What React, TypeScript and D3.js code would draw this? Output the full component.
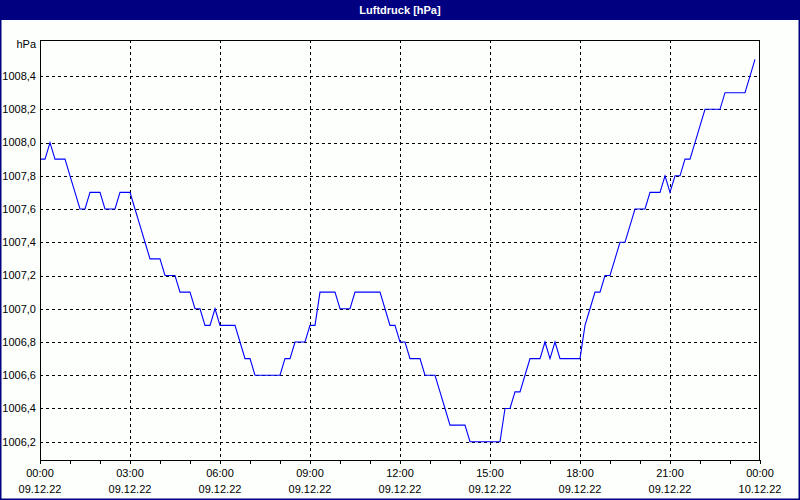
import React from "react";
import * as d3 from "d3";

// Air pressure, one reading every 10 minutes from 09.12.22 00:00
const pressureValues: number[] = [
  1007.9, 1007.9, 1008.0, 1007.9, 1007.9, 1007.9, 1007.8, 1007.7, 1007.6, 1007.6,
  1007.7, 1007.7, 1007.7, 1007.6, 1007.6, 1007.6, 1007.7, 1007.7, 1007.7, 1007.6,
  1007.5, 1007.4, 1007.3, 1007.3, 1007.3, 1007.2, 1007.2, 1007.2, 1007.1, 1007.1,
  1007.1, 1007.0, 1007.0, 1006.9, 1006.9, 1007.0, 1006.9, 1006.9, 1006.9, 1006.9,
  1006.8, 1006.7, 1006.7, 1006.6, 1006.6, 1006.6, 1006.6, 1006.6, 1006.6, 1006.7,
  1006.7, 1006.8, 1006.8, 1006.8, 1006.9, 1006.9, 1007.1, 1007.1, 1007.1, 1007.1,
  1007.0, 1007.0, 1007.0, 1007.1, 1007.1, 1007.1, 1007.1, 1007.1, 1007.1, 1007.0,
  1006.9, 1006.9, 1006.8, 1006.8, 1006.7, 1006.7, 1006.7, 1006.6, 1006.6, 1006.6,
  1006.5, 1006.4, 1006.3, 1006.3, 1006.3, 1006.3, 1006.2, 1006.2, 1006.2, 1006.2,
  1006.2, 1006.2, 1006.2, 1006.4, 1006.4, 1006.5, 1006.5, 1006.6, 1006.7, 1006.7,
  1006.7, 1006.8, 1006.7, 1006.8, 1006.7, 1006.7, 1006.7, 1006.7, 1006.7, 1006.9,
  1007.0, 1007.1, 1007.1, 1007.2, 1007.2, 1007.3, 1007.4, 1007.4, 1007.5, 1007.6,
  1007.6, 1007.6, 1007.7, 1007.7, 1007.7, 1007.8, 1007.7, 1007.8, 1007.8, 1007.9,
  1007.9, 1008.0, 1008.1, 1008.2, 1008.2, 1008.2, 1008.2, 1008.3, 1008.3, 1008.3,
  1008.3, 1008.3, 1008.4, 1008.5,
];

const startTime = new Date(2022, 11, 9, 0, 0, 0);
const intervalMinutes = 10;
const spanHours = 24;
const majorTickHours = [0, 3, 6, 9, 12, 15, 18, 21, 24];
const yTickValues = [
  1006.2, 1006.4, 1006.6, 1006.8, 1007.0, 1007.2, 1007.4, 1007.6, 1007.8, 1008.0, 1008.2, 1008.4,
];
const yDomain: [number, number] = [1006.09, 1008.617];
const titleText = "Luftdruck [hPa]";
const unitText = "hPa";

const W = 800;
const H = 500;
const L = 40;
const R = 760;
const T = 40;
const B = 460;
const FONT = "'Liberation Sans', Arial, sans-serif";

export default function App() {
  const hour = 3600 * 1000;
  const endTime = new Date(startTime.getTime() + spanHours * hour);
  const x = d3.scaleTime().domain([startTime, endTime]).range([L, R]);
  const y = d3.scaleLinear().domain(yDomain).range([B, T]);

  const points = pressureValues.map((v, i) => ({
    t: new Date(startTime.getTime() + i * intervalMinutes * 60 * 1000),
    v,
  }));
  const line = d3
    .line<{ t: Date; v: number }>()
    .x((d) => x(d.t))
    .y((d) => y(d.v));

  const hourTicks = d3.range(0, spanHours + 1).map((h) => new Date(startTime.getTime() + h * hour));
  const majorTicks = majorTickHours.map((h) => new Date(startTime.getTime() + h * hour));
  const fmtTime = d3.timeFormat("%H:%M");
  const fmtDate = d3.timeFormat("%d.%m.%y");
  const fmtY = (v: number) => v.toFixed(1).replace(".", ",");
  const px = (v: number) => Math.round(v) + 0.5;

  return (
    <div style={{ position: "absolute", left: 0, top: 0, width: W, height: H }}>
      <svg width={W} height={H} style={{ display: "block" }} fontFamily={FONT}>
        <rect x={0} y={0} width={W} height={H} fill="#FCFFFC" />
        <rect x={0} y={0} width={W} height={20} fill="#000080" />
        <rect x={0.5} y={0.5} width={W - 1} height={H - 1} fill="none" stroke="#000080" strokeWidth={2} />
        <text x={W / 2} y={14} textAnchor="middle" fill="#FFFFFF" fontSize={11} fontWeight="bold">
          {titleText}
        </text>

        {/* horizontal grid */}
        <g shapeRendering="crispEdges">
          {yTickValues.map((v) => (
            <line
              key={"hg" + v}
              x1={L}
              x2={R}
              y1={px(y(v))}
              y2={px(y(v))}
              stroke="#000"
              strokeDasharray="3,3"
            />
          ))}
          {majorTicks.slice(1, -1).map((t, i) => (
            <line
              key={"vg" + i}
              x1={px(x(t))}
              x2={px(x(t))}
              y1={T}
              y2={B}
              stroke="#000"
              strokeDasharray="3,3"
            />
          ))}
          {hourTicks.map((t, i) => (
            <line key={"tk" + i} x1={px(x(t))} x2={px(x(t))} y1={B} y2={B + 4} stroke="#000" />
          ))}
        </g>

        <path d={line(points) ?? ""} fill="none" stroke="#0000FF" strokeWidth={1.1} />

        <rect
          x={L + 0.5}
          y={T + 0.5}
          width={R - L - 1}
          height={B - T}
          fill="none"
          stroke="#000"
          shapeRendering="crispEdges"
        />

        {/* y labels */}
        <text x={36} y={48} textAnchor="end" fontSize={11} fill="#000">
          {unitText}
        </text>
        {yTickValues.map((v) => (
          <text
            key={"yl" + v}
            x={36}
            y={y(v)}
            dy="0.35em"
            textAnchor="end"
            fontSize={11}
            fill="#000"
          >
            {fmtY(v)}
          </text>
        ))}

        {/* x labels */}
        {majorTicks.map((t, i) => (
          <g key={"xl" + i}>
            <text x={x(t)} y={477} textAnchor="middle" fontSize={11} fill="#000">
              {fmtTime(t)}
            </text>
            <text x={x(t)} y={493} textAnchor="middle" fontSize={11} fill="#000">
              {fmtDate(t)}
            </text>
          </g>
        ))}
      </svg>
    </div>
  );
}
